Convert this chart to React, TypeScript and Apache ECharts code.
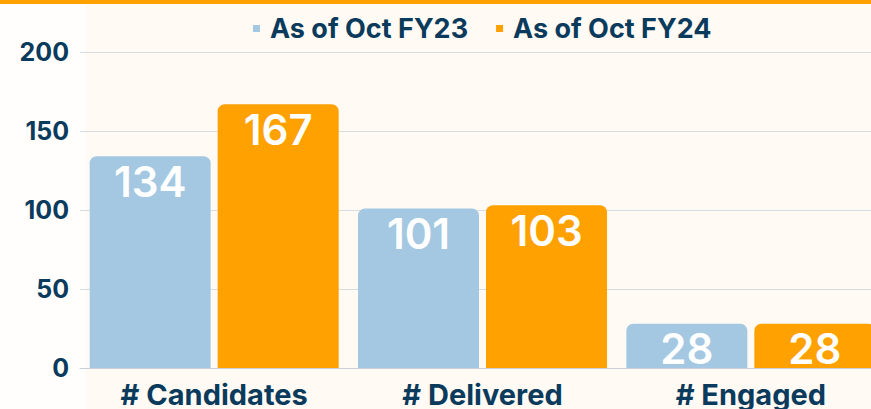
import React, { useEffect, useRef } from "react";
import * as echarts from "echarts";

const categories = ["# Candidates", "# Delivered", "# Engaged"];
const fy23Values = [134, 101, 28];
const fy24Values = [167, 103, 28];
const seriesNames = ["As of Oct FY23", "As of Oct FY24"];

const NAVY = "#0b3b5c";
const FONT = "Inter, 'Noto Sans', sans-serif";

export default function App() {
  const ref = useRef<HTMLDivElement>(null);
  useEffect(() => {
    if (!ref.current) return;
    const chart = echarts.init(ref.current, undefined, { renderer: "svg" });
    const label = {
      show: true,
      position: "insideTop",
      distance: 4,
      color: "#ffffff",
      fontSize: 42,
      fontWeight: 600,
      fontFamily: FONT,
    };
    chart.setOption({
      animation: false,
      backgroundColor: "transparent",
      textStyle: { fontFamily: FONT },
      legend: {
        top: 10,
        left: 248,
        itemWidth: 7,
        itemHeight: 7,
        itemGap: 28,
        icon: "rect",
        textStyle: {
          color: NAVY,
          fontSize: 27,
          fontWeight: 700,
          fontFamily: FONT,
          padding: [0, 0, 0, 5],
        },
        data: seriesNames,
      },
      grid: { left: 80, right: 10, top: 52, bottom: 41, containLabel: false },
      xAxis: {
        type: "category",
        data: categories,
        axisTick: { show: false },
        axisLine: { show: true, lineStyle: { color: "#c9d1d6", width: 1 } },
        axisLabel: {
          color: NAVY,
          fontSize: 29,
          fontWeight: 700,
          fontFamily: FONT,
          margin: 12,
        },
      },
      yAxis: {
        type: "value",
        min: 0,
        max: 200,
        interval: 50,
        axisLine: { show: false },
        axisTick: { show: false },
        splitLine: { lineStyle: { color: "#d6dde1", width: 1 } },
        axisLabel: {
          color: NAVY,
          fontSize: 25,
          fontWeight: 700,
          fontFamily: FONT,
          margin: 11,
        },
      },
      series: [
        {
          name: seriesNames[0],
          type: "bar",
          data: fy23Values,
          barWidth: 121,
          barGap: "5.8%",
          itemStyle: { color: "#a4c8e2", borderRadius: [7, 7, 0, 0] },
          label,
        },
        {
          name: seriesNames[1],
          type: "bar",
          data: fy24Values,
          barWidth: 121,
          barGap: "5.8%",
          itemStyle: { color: "#ffa100", borderRadius: [7, 7, 0, 0] },
          label,
        },
      ],
    });
    return () => chart.dispose();
  }, []);

  return (
    <div
      style={{
        position: "absolute",
        left: 0,
        top: 0,
        width: 871,
        height: 409,
        overflow: "hidden",
        background: "#fffaf4",
      }}
    >
      <div
        style={{
          position: "absolute",
          left: 0,
          top: 0,
          width: 86,
          height: 409,
          background: "#fffefd",
        }}
      />
      <div
        style={{
          position: "absolute",
          left: 0,
          top: 0,
          width: 895,
          height: 409,
        }}
        ref={ref}
      />
      <div
        style={{
          position: "absolute",
          left: 0,
          top: 0,
          width: 871,
          height: 4,
          background: "#ffa200",
        }}
      />
    </div>
  );
}
